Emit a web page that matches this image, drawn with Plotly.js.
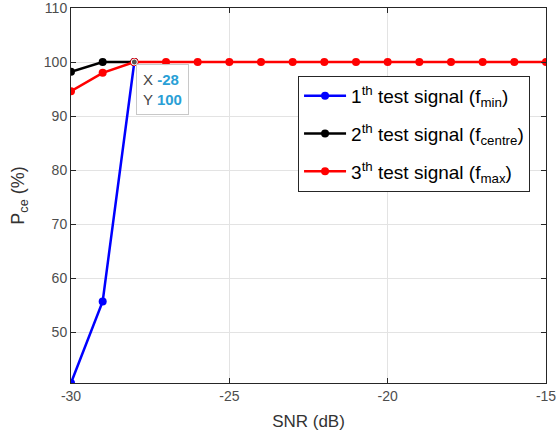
<!DOCTYPE html>
<html><head><meta charset="utf-8">
<script src="https://cdn.plot.ly/plotly-3.0.1.min.js"></script>
<style>body{margin:0;background:#fff}#chart{width:556px;height:441px}</style>
</head><body><div id="chart"></div>
<script>
const snr1 = [-30, -29, -28];
const pce1 = [40.6, 55.7, 100];
const snr2 = [-30, -29, -28];
const pce2 = [98.2, 100, 100];
const snr3 = [-30, -29, -28, -27, -26, -25, -24, -23, -22, -21, -20, -19, -18, -17, -16, -15];
const pce3 = [94.6, 98.0, 100, 100, 100, 100, 100, 100, 100, 100, 100, 100, 100, 100, 100, 100];
const xTicks = [-30, -25, -20, -15];
const xTickText = ['-30', '-25', '-20', '-15'];
const yTicks = [50, 60, 70, 80, 90, 100, 110];
const names = [
  '1<sup>th</sup> test signal (f<sub>min</sub>)',
  '2<sup>th</sup> test signal (f<sub>centre</sub>)',
  '3<sup>th</sup> test signal (f<sub>max</sub>)'
];
const tipX = -28, tipY = 100;

const mk = (x, y, name, c, g) => ({x, y, name, legendgroup: g, type: 'scatter', mode: 'lines+markers',
  line: {color: c, width: 2.5}, marker: {color: c, size: 8}});
const data = [
  mk(snr1, pce1, names[0], '#0000ff', 'a'),
  mk(snr2, pce2, names[1], '#000000', 'b'),
  mk(snr3, pce3, names[2], '#ff0000', 'c'),
  {x: [tipX], y: [tipY], type: 'scatter', mode: 'markers', showlegend: false,
   marker: {color: '#555', size: 6, line: {color: '#fff', width: 1}}}
];
const ax = {showline: true, mirror: 'ticks', linecolor: '#262626', linewidth: 1,
  ticks: 'inside', ticklen: 5, tickcolor: '#262626', showgrid: true, gridcolor: '#e3e3e3',
  zeroline: false, ticklabeloverflow: 'allow',
  tickfont: {family: 'Liberation Sans, Arial', size: 14, color: '#4d4d4d'}};
const layout = {
  width: 556, height: 441,
  margin: {l: 71, r: 10, t: 8, b: 58},
  paper_bgcolor: '#fff', plot_bgcolor: '#fff',
  font: {family: 'Liberation Sans, Arial', color: '#262626'},
  xaxis: Object.assign({}, ax, {range: [-30, -15], tickvals: xTicks, ticktext: xTickText,
    title: {text: 'SNR (dB)', font: {size: 17, color: '#333'}, standoff: 12}}),
  yaxis: Object.assign({}, ax, {range: [40.6, 110], tickvals: yTicks,
    title: {text: 'P<sub>ce</sub> (%)', font: {size: 18, color: '#333'}, standoff: 14}}),
  legend: {x: 0.478, y: 0.819, xanchor: 'left', yanchor: 'top', bgcolor: '#fff',
    bordercolor: '#262626', borderwidth: 1, font: {size: 19, color: '#000'},
    tracegroupgap: 10, itemwidth: 42},
  showlegend: true,
  annotations: [{x: tipX, y: tipY, xref: 'x', yref: 'y', xanchor: 'left', yanchor: 'top',
    xshift: 2, yshift: -2, showarrow: false, align: 'left',
    text: 'X <b><span style="color:#2a9fd6">-28</span></b><br>Y <b><span style="color:#2a9fd6">100</span></b>',
    font: {size: 15, color: '#444'}, bgcolor: 'rgba(255,255,255,0.95)', bordercolor: '#c8c8c8',
    borderwidth: 1, borderpad: 6}]
};
Plotly.newPlot('chart', data, layout, {displayModeBar: false, staticPlot: true});
</script></body></html>
